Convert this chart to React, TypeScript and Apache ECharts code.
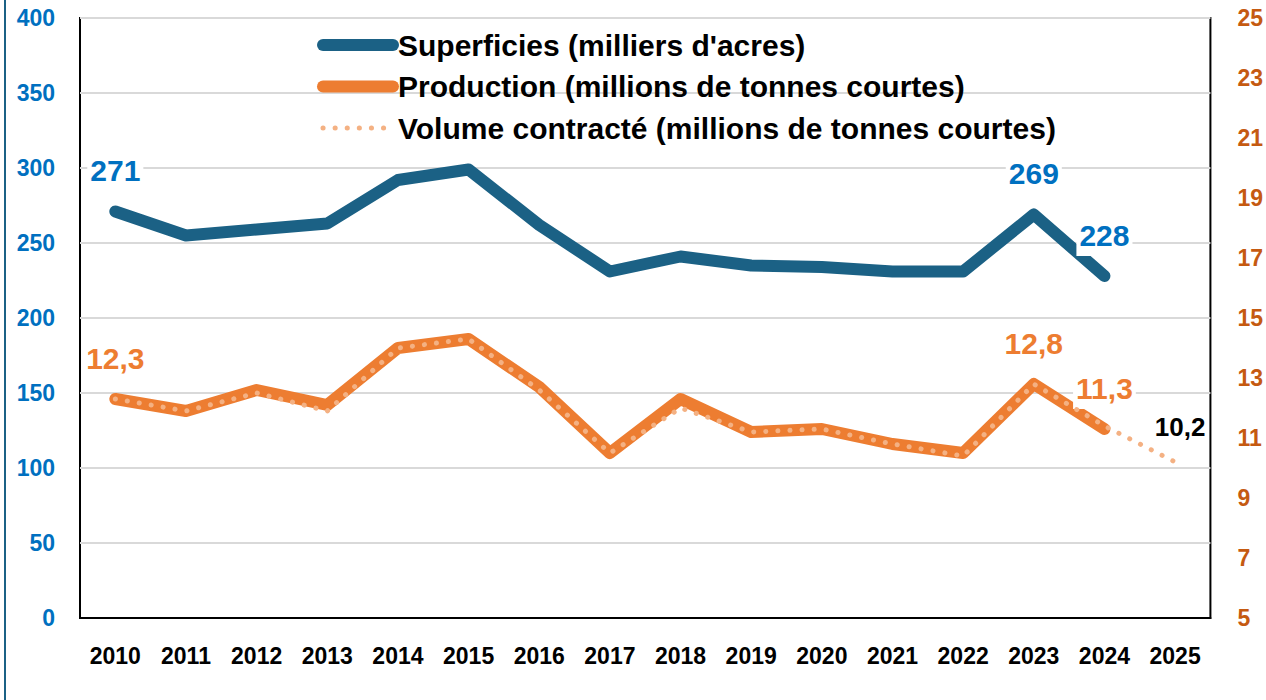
import React, { useEffect, useRef } from "react";
import * as echarts from "echarts";

const years = ["2010", "2011", "2012", "2013", "2014", "2015", "2016", "2017", "2018", "2019", "2020", "2021", "2022", "2023", "2024", "2025"];
const superficies = [271, 255, 259, 263, 292, 299, 262, 231, 241, 235, 234, 231, 231, 269, 228, null];
const production = [12.3, 11.9, 12.6, 12.1, 14.0, 14.3, 12.7, 10.5, 12.3, 11.2, 11.3, 10.8, 10.5, 12.8, 11.3, null];
const volume = [12.3, 11.9, 12.5, 11.9, 14.0, 14.3, 12.6, 10.5, 12.0, 11.2, 11.3, 10.8, 10.4, 12.8, 11.4, 10.2];
const seriesNames = [
  "Superficies (milliers d'acres)",
  "Production (millions de tonnes courtes)",
  "Volume contracté (millions de tonnes courtes)",
];
const superficiesLabelIdx = [0, 13, 14];
const productionLabelIdx = [0, 13, 14];
const volumeLabelIdx = [15];

const FONT = '"Liberation Sans", Arial, sans-serif';
const BLUE_LINE = "#1B6185";
const ORANGE = "#ED7D31";
const LIGHT = "#F4B183";

const fmt = (p: any) => String(p.value).replace(".", ",");

function withLabels(values: (number | null)[], idx: number[], label: any) {
  return values.map((v, i) => (idx.includes(i) && v != null ? { value: v, label: { show: true, ...label } } : v));
}

const labelBase = {
  position: "top",
  distance: 19,
  fontFamily: FONT,
  fontWeight: "bold",
  fontSize: 30,
  backgroundColor: "#ffffff",
  padding: [2, 3, 6, 3],
  formatter: fmt,
};

const hiddenSymbol = {
  symbol: "circle",
  symbolSize: 2,
  showSymbol: true,
  itemStyle: { color: "transparent", borderColor: "transparent", borderWidth: 0 },
};

export default function App() {
  const ref = useRef<HTMLDivElement>(null);
  useEffect(() => {
    document.documentElement.style.overflow = "hidden";
    document.body.style.margin = "0";
    document.body.style.overflow = "hidden";
    if (!ref.current) return;
    const chart = echarts.init(ref.current, null, { renderer: "svg", width: 1266, height: 700 });
    chart.setOption({
      animation: false,
      backgroundColor: "#ffffff",
      grid: {
        left: 80,
        right: 40,
        top: 18,
        bottom: 82,
        show: true,
        borderColor: "#000000",
        borderWidth: 2,
        backgroundColor: "transparent",
      },
      legend: {
        orient: "vertical",
        left: 317,
        top: 30,
        padding: 0,
        itemWidth: 70,
        itemHeight: 30,
        itemGap: 11.5,
        data: seriesNames,
        textStyle: { fontFamily: FONT, fontWeight: "bold", fontSize: 30, lineHeight: 30, color: "#000000" },
        itemStyle: { opacity: 0 },
        lineStyle: { width: "inherit", opacity: 1 },
      },
      graphic: [
        { type: "rect", left: 4, top: 0, shape: { width: 2, height: 700 }, style: { fill: BLUE_LINE } },
      ],
      xAxis: {
        type: "category",
        data: years,
        boundaryGap: true,
        axisLine: { show: true, lineStyle: { color: "#000000", width: 2 } },
        axisTick: { show: false },
        axisLabel: { fontFamily: FONT, fontWeight: "bold", fontSize: 23, color: "#000000", margin: 26, interval: 0 },
      },
      yAxis: [
        {
          type: "value",
          min: 0,
          max: 400,
          interval: 50,
          axisLine: { show: false },
          axisTick: { show: false },
          splitLine: { show: true, lineStyle: { color: "#D9D9D9", width: 2 } },
          axisLabel: { fontFamily: FONT, fontWeight: "bold", fontSize: 23, color: "#0070C0", margin: 25 },
        },
        {
          type: "value",
          min: 5,
          max: 25,
          interval: 2,
          position: "right",
          axisLine: { show: false },
          axisTick: { show: false },
          splitLine: { show: false },
          axisLabel: { fontFamily: FONT, fontWeight: "bold", fontSize: 23, color: "#C55A11", margin: 27 },
        },
      ],
      series: [
        {
          name: seriesNames[0],
          type: "line",
          yAxisIndex: 0,
          data: withLabels(superficies, superficiesLabelIdx, { ...labelBase, color: "#0070C0" }),
          ...hiddenSymbol,
          color: BLUE_LINE,
          lineStyle: { color: BLUE_LINE, width: 12, cap: "round", join: "round" },
          label: { show: false },
          z: 3,
        },
        {
          name: seriesNames[1],
          type: "line",
          yAxisIndex: 1,
          data: withLabels(production, productionLabelIdx, { ...labelBase, color: ORANGE }),
          ...hiddenSymbol,
          color: ORANGE,
          lineStyle: { color: ORANGE, width: 12, cap: "round", join: "round" },
          label: { show: false },
          z: 2,
        },
        {
          name: seriesNames[2],
          type: "line",
          yAxisIndex: 1,
          data: withLabels(volume, volumeLabelIdx, { ...labelBase, color: "#000000", fontSize: 26, distance: 15, offset: [5, 0] }),
          ...hiddenSymbol,
          color: LIGHT,
          lineStyle: { color: LIGHT, width: 5, type: [0.1, 12], cap: "round", join: "round" },
          label: { show: false },
          z: 4,
        },
      ],
    });
    return () => chart.dispose();
  }, []);
  return <div ref={ref} style={{ position: "fixed", left: 0, top: 0, width: 1266, height: 700 }} />;
}
